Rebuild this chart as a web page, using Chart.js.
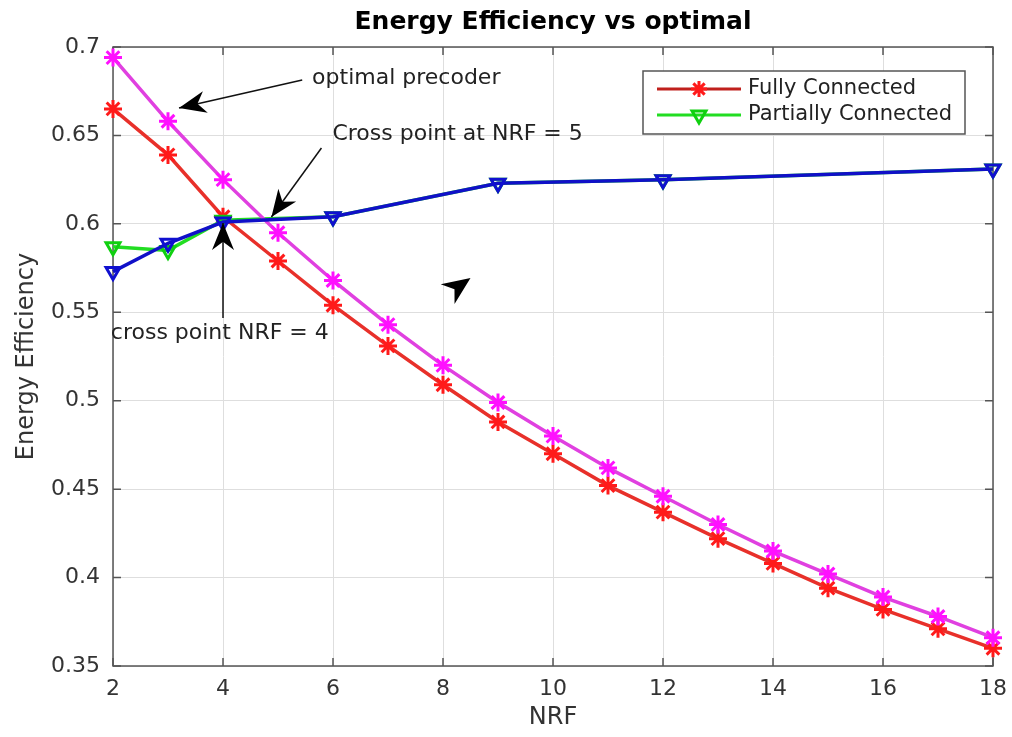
<!DOCTYPE html>
<html>
<head>
<meta charset="utf-8">
<title>Energy Efficiency vs optimal</title>
<script src="https://cdn.jsdelivr.net/npm/chart.js@4.4.1/dist/chart.umd.min.js"></script>
<style>
    html, body { margin: 0; padding: 0; background: #fff; }
    #wrap { width: 1012px; height: 737px; position: relative; }
</style>
</head>
<body>
<div id="wrap"><canvas id="eeChart"></canvas></div>
<script>
// values
const nrf = [2, 3, 4, 5, 6, 7, 8, 9, 10, 11, 12, 13, 14, 15, 16, 17, 18];
const fullyConnected = [0.665, 0.639, 0.604, 0.579, 0.554, 0.531, 0.509, 0.488, 0.470, 0.452, 0.437, 0.422, 0.408, 0.394, 0.382, 0.371, 0.360];
const optimalPrecoder = [0.694, 0.658, 0.625, 0.595, 0.568, 0.543, 0.520, 0.499, 0.480, 0.462, 0.446, 0.430, 0.415, 0.402, 0.389, 0.378, 0.366];

const nrfPartial = [2, 3, 4, 6, 9, 12, 18];
const partiallyConnected = [0.587, 0.585, 0.602, 0.604, 0.623, 0.625, 0.631];
const partiallyConnectedBlue = [0.573, 0.589, 0.601, 0.604, 0.623, 0.625, 0.631];

const xTicks = [2, 4, 6, 8, 10, 12, 14, 16, 18];
const yTicks = [0.35, 0.4, 0.45, 0.5, 0.55, 0.6, 0.65, 0.7];

const FONT = "'DejaVu Sans', 'Liberation Sans', sans-serif";

// text annotations with arrows, in data units
const notes = [
    { text: 'optimal precoder', at: [5.62, 0.6825], from: [5.44, 0.6813], to: [3.20, 0.6655] },
    { text: 'Cross point at NRF = 5', at: [5.99, 0.6508], from: [5.79, 0.6429], to: [4.88, 0.6039] },
    { text: 'cross point NRF = 4', at: [1.96, 0.5383], from: [4.0, 0.5468], to: [4.0, 0.6005] }
];
// lone arrow head left in the figure
const strayHead = { from: [7.93, 0.5569], to: [8.50, 0.5694] };

function toPoints(xs, ys) {
    return xs.map((v, i) => ({ x: v, y: ys[i] }));
}

function drawArrowHead(ctx, x0, y0, x1, y1, len, half) {
    const ang = Math.atan2(y1 - y0, x1 - x0);
    const c = Math.cos(ang), s = Math.sin(ang);
    const bx = x1 - len * c, by = y1 - len * s;
    const nx = x1 - len * 0.7 * c, ny = y1 - len * 0.7 * s;
    ctx.beginPath();
    ctx.moveTo(x1, y1);
    ctx.lineTo(bx - half * s, by + half * c);
    ctx.lineTo(nx, ny);
    ctx.lineTo(bx + half * s, by - half * c);
    ctx.closePath();
    ctx.fill();
}

function drawStar(ctx, cx, cy, r) {
    const d = r * Math.SQRT1_2;
    ctx.beginPath();
    ctx.moveTo(cx - r, cy); ctx.lineTo(cx + r, cy);
    ctx.moveTo(cx, cy - r); ctx.lineTo(cx, cy + r);
    ctx.moveTo(cx - d, cy - d); ctx.lineTo(cx + d, cy + d);
    ctx.moveTo(cx - d, cy + d); ctx.lineTo(cx + d, cy - d);
    ctx.stroke();
}

function drawTriangleDown(ctx, cx, cy, r) {
    ctx.beginPath();
    ctx.moveTo(cx, cy + r);
    ctx.lineTo(cx - r * 0.866, cy - r * 0.5);
    ctx.lineTo(cx + r * 0.866, cy - r * 0.5);
    ctx.closePath();
    ctx.stroke();
}

const figurePlugin = {
    id: 'figure',
    beforeDatasetsDraw(chart) {
        const { ctx, chartArea: a, scales: { x, y } } = chart;
        ctx.save();
        ctx.strokeStyle = '#555';
        ctx.lineWidth = 1.5;
        ctx.strokeRect(a.left, a.top, a.right - a.left, a.bottom - a.top);
        // inward tick marks on all four sides
        ctx.beginPath();
        x.ticks.forEach(t => {
            const px = x.getPixelForValue(t.value);
            ctx.moveTo(px, a.bottom); ctx.lineTo(px, a.bottom - 8);
            ctx.moveTo(px, a.top); ctx.lineTo(px, a.top + 8);
        });
        y.ticks.forEach(t => {
            const py = y.getPixelForValue(t.value);
            ctx.moveTo(a.left, py); ctx.lineTo(a.left + 8, py);
            ctx.moveTo(a.right, py); ctx.lineTo(a.right - 8, py);
        });
        ctx.stroke();

        // x tick labels (drawn here so they don't eat into the right margin)
        ctx.fillStyle = '#333';
        ctx.font = '22px ' + FONT;
        ctx.textAlign = 'center';
        ctx.textBaseline = 'middle';
        x.ticks.forEach(t => {
            ctx.fillText(String(t.value), x.getPixelForValue(t.value), a.bottom + 23);
        });
        ctx.restore();
    },
    afterDatasetsDraw(chart) {
        const { ctx, chartArea: a, scales: { x, y } } = chart;
        ctx.save();

        // annotations
        ctx.strokeStyle = '#111';
        ctx.lineWidth = 1.5;
        ctx.font = '22px ' + FONT;
        ctx.textBaseline = 'middle';
        ctx.textAlign = 'left';
        notes.forEach(n => {
            ctx.fillStyle = '#222';
            ctx.fillText(n.text, x.getPixelForValue(n.at[0]), y.getPixelForValue(n.at[1]));
            const x0 = x.getPixelForValue(n.from[0]), y0 = y.getPixelForValue(n.from[1]);
            const x1 = x.getPixelForValue(n.to[0]), y1 = y.getPixelForValue(n.to[1]);
            ctx.beginPath();
            ctx.moveTo(x0, y0);
            ctx.lineTo(x1, y1);
            ctx.stroke();
            ctx.fillStyle = '#000';
            drawArrowHead(ctx, x0, y0, x1, y1, 27, 11);
        });
        drawArrowHead(ctx,
            x.getPixelForValue(strayHead.from[0]), y.getPixelForValue(strayHead.from[1]),
            x.getPixelForValue(strayHead.to[0]), y.getPixelForValue(strayHead.to[1]), 28, 12);

        // legend box, top right inside the axes
        const bw = 322, bh = 63;
        const bx = a.right - 28 - bw, by = a.top + 24;
        ctx.fillStyle = '#fff';
        ctx.fillRect(bx, by, bw, bh);
        ctx.strokeStyle = '#555';
        ctx.lineWidth = 1.5;
        ctx.strokeRect(bx, by, bw, bh);
        const rows = [
            { label: 'Fully Connected', line: '#c0201c', mark: '#ff1a1a', star: true },
            { label: 'Partially Connected', line: '#22dd22', mark: '#10d010', star: false }
        ];
        ctx.font = '21px ' + FONT;
        rows.forEach((r, i) => {
            const ry = by + 18 + i * 26;
            ctx.strokeStyle = r.line;
            ctx.lineWidth = 3;
            ctx.beginPath();
            ctx.moveTo(bx + 14, ry); ctx.lineTo(bx + 98, ry);
            ctx.stroke();
            ctx.strokeStyle = r.mark;
            ctx.lineWidth = 3;
            if (r.star) drawStar(ctx, bx + 56, ry, 8);
            else drawTriangleDown(ctx, bx + 56, ry, 8);
            ctx.fillStyle = '#222';
            ctx.fillText(r.label, bx + 105, ry);
        });
        ctx.restore();
    },
    afterDraw(chart) {
        const { ctx, chartArea: a } = chart;
        ctx.save();
        ctx.font = 'bold 25px ' + FONT;
        ctx.fillStyle = '#000';
        ctx.textAlign = 'center';
        ctx.textBaseline = 'alphabetic';
        ctx.fillText('Energy Efficiency vs optimal', (a.left + a.right) / 2, 29);
        ctx.restore();
    }
};

const ctx = document.getElementById('eeChart').getContext('2d');
new Chart(ctx, {
    type: 'line',
    data: {
        datasets: [
            {
                label: 'Partially Connected (blue)',
                data: toPoints(nrfPartial, partiallyConnectedBlue),
                borderColor: '#1010c8',
                borderWidth: 3.5,
                pointStyle: 'triangle',
                rotation: 180,
                pointRadius: 8,
                pointBorderWidth: 3,
                pointBorderColor: '#1010d0',
                pointBackgroundColor: 'rgba(0,0,0,0)',
                clip: false
            },
            {
                label: 'Optimal precoder',
                data: toPoints(nrf, optimalPrecoder),
                borderColor: '#e040e0',
                borderWidth: 3.5,
                pointStyle: 'star',
                pointRadius: 9,
                pointBorderWidth: 3,
                pointBorderColor: '#ff10ff',
                pointBackgroundColor: '#ff10ff',
                clip: false
            },
            {
                label: 'Partially Connected',
                data: toPoints(nrfPartial, partiallyConnected),
                borderColor: '#22dd22',
                borderWidth: 3.5,
                pointStyle: 'triangle',
                rotation: 180,
                pointRadius: 8,
                pointBorderWidth: 3,
                pointBorderColor: '#10d010',
                pointBackgroundColor: 'rgba(0,0,0,0)',
                clip: false
            },
            {
                label: 'Fully Connected',
                data: toPoints(nrf, fullyConnected),
                borderColor: '#e8302a',
                borderWidth: 3.5,
                pointStyle: 'star',
                pointRadius: 9,
                pointBorderWidth: 3,
                pointBorderColor: '#ff1a1a',
                pointBackgroundColor: '#ff1a1a',
                clip: false
            }
        ]
    },
    options: {
        responsive: true,
        maintainAspectRatio: false,
        animation: false,
        layout: {
            padding: { top: 47, right: 19, left: 0, bottom: 0 }
        },
        scales: {
            x: {
                type: 'linear',
                min: 2,
                max: 18,
                afterBuildTicks: s => { s.ticks = xTicks.map(v => ({ value: v })); },
                afterFit: s => { s.height = 71; },
                grid: { color: '#dedede', lineWidth: 1, drawTicks: false },
                border: { display: false },
                ticks: { display: false },
                title: {
                    display: true,
                    text: 'NRF',
                    color: '#333',
                    font: { size: 24, family: FONT, lineHeight: 1 },
                    padding: { top: 0, bottom: 7 }
                }
            },
            y: {
                type: 'linear',
                min: 0.35,
                max: 0.7,
                afterBuildTicks: s => { s.ticks = yTicks.map(v => ({ value: v })); },
                afterFit: s => { s.width = 113; },
                grid: { color: '#dedede', lineWidth: 1, drawTicks: false },
                border: { display: false },
                ticks: {
                    padding: 13,
                    color: '#333',
                    font: { size: 22, family: FONT },
                    callback: v => String(Math.round(v * 100) / 100)
                },
                title: {
                    display: true,
                    text: 'Energy Efficiency',
                    color: '#333',
                    font: { size: 24, family: FONT, lineHeight: 1 },
                    padding: { top: 15, bottom: 0 }
                }
            }
        },
        plugins: {
            legend: { display: false },
            title: { display: false },
            tooltip: { enabled: false }
        }
    },
    plugins: [figurePlugin]
});
</script>
</body>
</html>
